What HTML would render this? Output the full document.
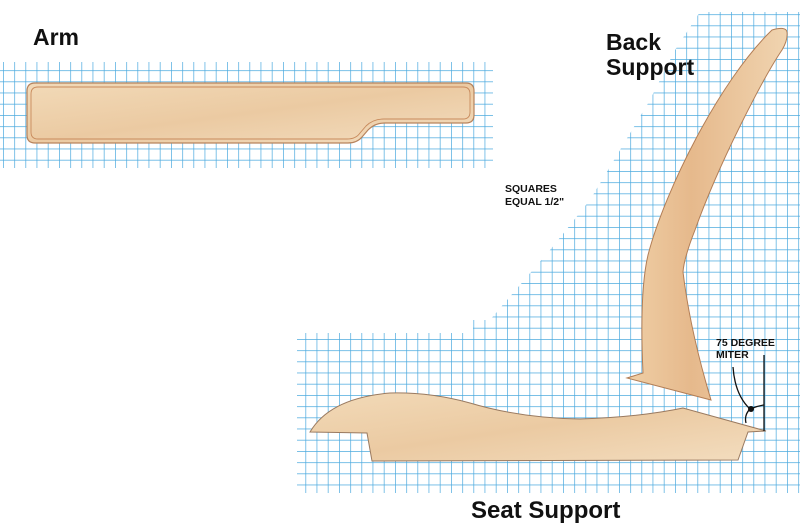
<!DOCTYPE html>
<html><head><meta charset="utf-8"><style>
html,body{margin:0;padding:0;background:#fff;}
svg{display:block;}
.t{font-family:"Liberation Sans",sans-serif;font-weight:bold;fill:#111;}
</style></head><body>
<svg width="800" height="531" viewBox="0 0 800 531" xmlns="http://www.w3.org/2000/svg">
<defs>
<pattern id="g" x="3" y="3" width="11.2" height="11.2" patternUnits="userSpaceOnUse">
<path d="M0 0H11.2M0 0V11.2" stroke="#4aa9de" stroke-width="1.4" fill="none"/>
</pattern>
<linearGradient id="w" x1="0" y1="0" x2="1" y2="1">
<stop offset="0" stop-color="#f2dab8"/><stop offset="0.5" stop-color="#ebcaa2"/><stop offset="1" stop-color="#f3ddbf"/>
</linearGradient>
<linearGradient id="w2" x1="0" y1="0" x2="1" y2="0">
<stop offset="0" stop-color="#efcfa6"/><stop offset="0.4" stop-color="#e6b98c"/><stop offset="1" stop-color="#f0d4b0"/>
</linearGradient>
</defs>
<rect x="0" y="62" width="493" height="106" fill="url(#g)"/>
<polygon points="700,12 800,12 800,493 297,493 297,333 473,333 473,320 490,320 507,300 550,250 590,200 620,150 650,100 675,50" fill="url(#g)"/>
<path d="M35,83 H466 Q474,83 474,91 V115 Q474,123 466,123 H385 Q375,123 368,130 L362,137 Q357,143 348,143 H35 Q27,143 27,135 V91 Q27,83 35,83 Z" fill="url(#w)" stroke="#b7835c" stroke-width="1.2"/>
<path d="M38,87 H463 Q470,87 470,94 V112 Q470,119 463,119 H384 Q373,119 366,126 L360,133 Q356,139 347,139 H38 Q31,139 31,132 V94 Q31,87 38,87 Z" fill="none" stroke="#c88a5c" stroke-width="0.9"/>
<path d="M772,30 Q786,26 787,32 Q788,40 782,50 C765,75 720,160 695,230 Q684,258 683,272 Q690,330 711,400 L627,378 L643,373 C641,330 641,285 648,255 C665,190 720,80 772,30 Z" fill="url(#w2)" stroke="#b27d55" stroke-width="1"/>
<path d="M310,432 Q330,398 390,393 Q430,392 470,403 Q520,418 580,419 Q640,417 683,408 L766,431 L748,432 L738,460 L372,461 L367,433 Z" fill="url(#w)" stroke="#9a7a60" stroke-width="1"/>
<line x1="764" y1="355" x2="764" y2="431" stroke="#111" stroke-width="1.3"/>
<path d="M733,367 Q735,395 750,409 Q744,415 746,423" fill="none" stroke="#111" stroke-width="1.3"/>
<path d="M750,409 Q757,406 764,405" fill="none" stroke="#111" stroke-width="1.3"/>
<circle cx="751" cy="409" r="3" fill="#111"/>
<text class="t" x="716" y="346" font-size="10.5">75 DEGREE</text>
<text class="t" x="716" y="358" font-size="10.5">MITER</text>
<text class="t" x="505" y="192" font-size="10.5">SQUARES</text>
<text class="t" x="505" y="205" font-size="10.5">EQUAL 1/2"</text>
<text class="t" x="33" y="45" font-size="23">Arm</text>
<text class="t" x="606" y="50" font-size="23">Back</text>
<text class="t" x="606" y="75" font-size="23">Support</text>
<text class="t" x="471" y="518" font-size="24">Seat Support</text>
</svg>
</body></html>
